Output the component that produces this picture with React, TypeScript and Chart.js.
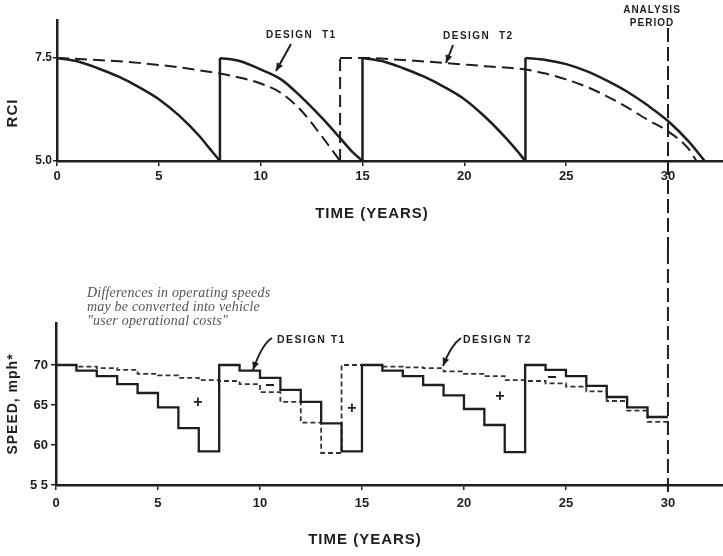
import React, { useEffect, useRef } from 'react';
import { Chart, registerables } from 'chart.js';
Chart.register(...registerables);

// ---------- data ----------
const yearTicks = [0, 5, 10, 15, 20, 25, 30];
const rciTicks = [5.0, 7.5];
const speedTicks = [55, 60, 65, 70];
const analysisYear = 30;

// Top chart: RCI vs time. null = break between service cycles
const rciT1Years = [0, 1, 2, 3, 4, 5, 6, 7, 7.5, 8, 8, 8, 9, 10, 11, 12, 13, 14, 14.5, 15, 15, 15, 16, 17, 18, 19, 20, 21, 22, 22.5, 23, 23, 23, 24, 25, 26, 27, 28, 29, 30, 31, 31.8];
const rciT1Values = [7.5, 7.42, 7.25, 7.05, 6.8, 6.5, 6.1, 5.6, 5.3, 5.0, null, 7.5, 7.42, 7.22, 6.98, 6.55, 6.05, 5.5, 5.22, 5.0, null, 7.5, 7.42, 7.25, 7.05, 6.8, 6.5, 6.08, 5.58, 5.3, 5.0, null, 7.5, 7.45, 7.35, 7.18, 6.95, 6.68, 6.35, 5.97, 5.48, 5.0];
const rciT1JumpYears = [8, 15, 23];
const rciT1JumpFrom = [5.0, 5.0, 5.0];
const rciT1JumpTo = [7.5, 7.5, 7.5];

const rciT2Years = [0, 2, 4, 6, 8, 9, 10, 11, 12, 13, 13.9, 13.9, 13.9, 15, 17, 19, 21, 23, 24, 25, 26, 27, 28, 29, 30, 31, 31.4];
const rciT2Values = [7.5, 7.45, 7.38, 7.27, 7.12, 7.02, 6.88, 6.65, 6.22, 5.6, 5.0, null, 7.5, 7.5, 7.45, 7.38, 7.3, 7.22, 7.12, 6.98, 6.8, 6.57, 6.3, 6.0, 5.72, 5.3, 5.0];
const rciT2JumpYears = [13.9];
const rciT2JumpFrom = [5.0];
const rciT2JumpTo = [7.5];

// Bottom chart: operating speed (mph), value holds from each year to the next
const speedYears = [0, 1, 2, 3, 4, 5, 6, 7, 8, 9, 10, 11, 12, 13, 14, 15, 16, 17, 18, 19, 20, 21, 22, 23, 24, 25, 26, 27, 28, 29, 30];
const speedT1 = [70, 69.3, 68.6, 67.6, 66.5, 64.7, 62.1, 59.2, 70, 69.3, 68.4, 66.9, 65.4, 62.7, 59.2, 70, 69.3, 68.6, 67.5, 66.2, 64.5, 62.5, 59.1, 70, 69.4, 68.6, 67.4, 66.0, 64.7, 63.5, 63.5];
const speedT2 = [70, 69.8, 69.6, 69.4, 68.9, 68.7, 68.4, 68.1, 68.0, 67.6, 66.6, 65.4, 62.8, 59.0, 70, 70, 69.8, 69.7, 69.6, 69.2, 68.9, 68.6, 68.1, 68.0, 67.7, 67.3, 66.7, 65.5, 64.3, 62.9, 62.9];

// ---------- helpers ----------
const INK = '#1e1e1e';
const SANS = '"Liberation Sans", "DejaVu Sans", sans-serif';

const pts = (xs: number[], ys: (number | null)[]) => xs.map((x, i) => ({ x, y: ys[i] }));
const jumps = (xs: number[], from: number[], to: number[]) => {
  const out: any[] = [];
  xs.forEach((x, i) => {
    out.push({ x, y: from[i] }, { x, y: to[i] }, { x, y: null });
  });
  return out;
};

function text(ctx: CanvasRenderingContext2D, s: string, x: number, y: number, font: string, align: CanvasTextAlign = 'left', spacing = '0px', color = INK) {
  ctx.save();
  ctx.font = font;
  (ctx as any).letterSpacing = spacing;
  ctx.fillStyle = color;
  ctx.textAlign = align;
  ctx.textBaseline = 'middle';
  ctx.fillText(s, x, y);
  ctx.restore();
}

function vtext(ctx: CanvasRenderingContext2D, s: string, x: number, y: number, font: string, spacing = '0px') {
  ctx.save();
  ctx.translate(x, y);
  ctx.rotate(-Math.PI / 2);
  text(ctx, s, 0, 0, font, 'center', spacing);
  ctx.restore();
}

function arrow(ctx: CanvasRenderingContext2D, p: number[][]) {
  ctx.save();
  ctx.strokeStyle = INK;
  ctx.fillStyle = INK;
  ctx.lineWidth = 2;
  ctx.beginPath();
  ctx.moveTo(p[0][0], p[0][1]);
  if (p.length === 3) ctx.quadraticCurveTo(p[1][0], p[1][1], p[2][0], p[2][1]);
  else ctx.lineTo(p[1][0], p[1][1]);
  ctx.stroke();
  const [x2, y2] = p[p.length - 1];
  const [x1, y1] = p[p.length - 2];
  const a = Math.atan2(y2 - y1, x2 - x1);
  const L = 8, W = 3.5;
  ctx.beginPath();
  ctx.moveTo(x2, y2);
  ctx.lineTo(x2 - L * Math.cos(a) + W * Math.sin(a), y2 - L * Math.sin(a) - W * Math.cos(a));
  ctx.lineTo(x2 - L * Math.cos(a) - W * Math.sin(a), y2 - L * Math.sin(a) + W * Math.cos(a));
  ctx.closePath();
  ctx.fill();
  ctx.restore();
}

function analysisLine(chart: any, y0: number, y1: number) {
  const ctx = chart.ctx;
  const x = chart.scales.x.getPixelForValue(analysisYear);
  ctx.save();
  ctx.strokeStyle = INK;
  ctx.lineWidth = 2;
  ctx.setLineDash([14, 5]);
  ctx.beginPath();
  ctx.moveTo(x, y0);
  ctx.lineTo(x, y1);
  ctx.stroke();
  ctx.restore();
}

const xScale = (height: number, pad: number) => ({
  type: 'linear',
  min: 0,
  max: 32.7,
  afterBuildTicks: (s: any) => { s.ticks = yearTicks.map((v) => ({ value: v })); },
  afterFit: (s: any) => { s.height = height; },
  grid: { display: true, drawOnChartArea: false, drawTicks: true, tickLength: 5, color: INK, lineWidth: 1.5 },
  border: { display: true, color: INK, width: 2.5 },
  ticks: { color: INK, padding: pad, maxRotation: 0, font: { family: SANS, size: 13, weight: 'bold' } },
});

const baseOpts = {
  responsive: false,
  animation: false,
  devicePixelRatio: 1,
  plugins: { legend: { display: false }, tooltip: { enabled: false } },
  elements: { point: { radius: 0 } },
};

export default function App() {
  const topRef = useRef<HTMLCanvasElement>(null);
  const botRef = useRef<HTMLCanvasElement>(null);

  useEffect(() => {
    const topPlugin = {
      id: 'topAnno',
      afterDraw(chart: any) {
        const ctx = chart.ctx;
        analysisLine(chart, 28, chart.height);
        text(ctx, 'ANALYSIS', 652, 10, `bold 10px ${SANS}`, 'center', '1px');
        text(ctx, 'PERIOD', 652, 23, `bold 10px ${SANS}`, 'center', '1px');
        text(ctx, 'DESIGN  T1', 266, 35, `bold 10px ${SANS}`, 'left', '1.5px');
        arrow(ctx, [[291, 44], [276, 71]]);
        text(ctx, 'DESIGN  T2', 443, 36, `bold 10px ${SANS}`, 'left', '1.5px');
        arrow(ctx, [[453, 45], [446, 63]]);
        vtext(ctx, 'RCI', 13, 113, `bold 15px ${SANS}`, '1px');
        text(ctx, 'TIME (YEARS)', 372, 214, `bold 15px ${SANS}`, 'center', '1px');
      },
    };

    const botPlugin = {
      id: 'botAnno',
      afterDraw(chart: any) {
        const ctx = chart.ctx;
        analysisLine(chart, 0, 246);
        const it = `italic 14px "Liberation Serif", serif`;
        text(ctx, 'Differences in operating speeds', 87, 43, it, 'left', '0.2px', '#555');
        text(ctx, 'may be converted into vehicle', 87, 57, it, 'left', '0.2px', '#555');
        text(ctx, '"user operational costs"', 87, 71, it, 'left', '0.2px', '#555');
        text(ctx, 'DESIGN T1', 277, 90, `bold 10.5px ${SANS}`, 'left', '1.5px');
        arrow(ctx, [[272, 88], [262, 94], [253, 120]]);
        text(ctx, 'DESIGN T2', 463, 90, `bold 10.5px ${SANS}`, 'left', '1.5px');
        arrow(ctx, [[461, 88], [451, 95], [443, 116]]);
        const plus = `bold 16px ${SANS}`;
        text(ctx, '+', 198, 153, plus, 'center');
        text(ctx, '+', 352, 159, plus, 'center');
        text(ctx, '+', 500, 147, plus, 'center');
        ctx.save();
        ctx.strokeStyle = INK;
        ctx.lineWidth = 2;
        ctx.beginPath();
        ctx.moveTo(266, 135); ctx.lineTo(274, 135);
        ctx.moveTo(548, 127); ctx.lineTo(556, 127);
        ctx.stroke();
        ctx.restore();
        vtext(ctx, 'SPEED, mph*', 13, 154, `bold 14px ${SANS}`, '1px');
        text(ctx, 'TIME (YEARS)', 365, 290, `bold 15px ${SANS}`, 'center', '1px');
      },
    };

    const top = new Chart(topRef.current!, {
      type: 'line',
      data: {
        datasets: [
          { data: pts(rciT1Years, rciT1Values), borderColor: INK, borderWidth: 2.5, cubicInterpolationMode: 'monotone', spanGaps: false },
          { data: jumps(rciT1JumpYears, rciT1JumpFrom, rciT1JumpTo), borderColor: INK, borderWidth: 2.5, spanGaps: false },
          { data: pts(rciT2Years, rciT2Values), borderColor: INK, borderWidth: 2, borderDash: [12, 6], cubicInterpolationMode: 'monotone', spanGaps: false },
          { data: jumps(rciT2JumpYears, rciT2JumpFrom, rciT2JumpTo), borderColor: INK, borderWidth: 2, borderDash: [12, 6], spanGaps: false },
        ],
      },
      options: {
        ...baseOpts,
        layout: { padding: { top: 20, left: 0, right: 0, bottom: 0 } },
        scales: {
          x: xScale(89, 3),
          y: {
            type: 'linear',
            min: 5.0,
            max: 8.42,
            afterBuildTicks: (s: any) => { s.ticks = rciTicks.map((v) => ({ value: v })); },
            afterFit: (s: any) => { s.width = 57; },
            grid: { display: true, drawOnChartArea: false, drawTicks: true, tickLength: 4, color: INK, lineWidth: 1.5 },
            border: { display: true, color: INK, width: 2.5 },
            ticks: { color: INK, padding: 1, font: { family: SANS, size: 12, weight: 'bold' }, callback: (v: any) => Number(v).toFixed(1) },
          },
        },
      } as any,
      plugins: [topPlugin],
    });

    const bot = new Chart(botRef.current!, {
      type: 'line',
      data: {
        datasets: [
          { data: pts(speedYears, speedT1), borderColor: INK, borderWidth: 2.3, stepped: true },
          { data: pts(speedYears, speedT2), borderColor: '#333', borderWidth: 1.8, borderDash: [5, 3], stepped: true },
        ],
      },
      options: {
        ...baseOpts,
        layout: { padding: { top: 73, left: 0, right: 0, bottom: 0 } },
        scales: {
          x: xScale(71, 6),
          y: {
            type: 'linear',
            min: 55,
            max: 75.25,
            afterBuildTicks: (s: any) => { s.ticks = speedTicks.map((v) => ({ value: v })); },
            afterFit: (s: any) => { s.width = 56; },
            grid: { display: true, drawOnChartArea: false, drawTicks: true, tickLength: 5, color: INK, lineWidth: 1.5 },
            border: { display: true, color: INK, width: 2.5 },
            ticks: { color: INK, padding: 3, font: { family: SANS, size: 13, weight: 'bold' }, callback: (v: any) => (Number(v) === 55 ? '5 5' : String(v)) },
          },
        },
      } as any,
      plugins: [botPlugin],
    });

    return () => {
      top.destroy();
      bot.destroy();
    };
  }, []);

  return (
    <div style={{ position: 'absolute', left: 0, top: 0, width: 723, height: 556, background: '#fff' }}>
      <canvas ref={topRef} width={723} height={250} style={{ position: 'absolute', left: 0, top: 0, width: 723, height: 250 }} />
      <canvas ref={botRef} width={723} height={306} style={{ position: 'absolute', left: 0, top: 250, width: 723, height: 306 }} />
    </div>
  );
}
